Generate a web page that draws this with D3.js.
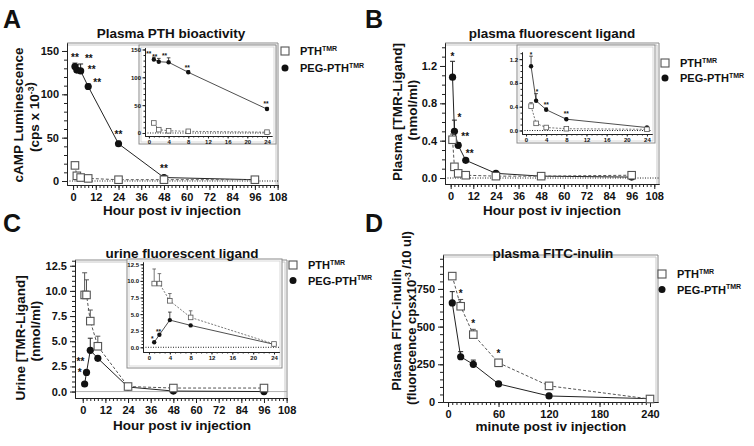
<!DOCTYPE html>
<html><head><meta charset="utf-8">
<script src="https://cdn.jsdelivr.net/npm/d3@7"></script>
<style>
body{margin:0;background:#fff}
svg{display:block}
text{font-family:"Liberation Sans",Arial,Helvetica,sans-serif;font-weight:bold;fill:#111}
</style>
</head><body>
<svg id="c" width="754" height="446"></svg>
<script>
// ---------------- data ----------------
const hours = [1, 2, 4, 8, 24, 48, 96];
const minutes = [5, 15, 30, 60, 120, 240];
const seriesNames = ["PTH", "PEG-PTH"];
const seriesSup = "TMR";

// A: plasma PTH bioactivity (cps x 10^-3)
const pthA = [18, 6, 4, 3, 1.5, 1.5, 1.5];
const pegA = [132, 128, 127, 109, 43, 4, 1.5];
const pegAErr = [136, 134, 135, 112, 46, null, null];
const pegAStars = ["**", "**", "**", "**", "**", "**", ""];

// B: plasma fluorescent ligand (nmol/ml)
const pthB = [0.41, 0.12, 0.05, 0.03, 0.02, 0.02, 0.03];
const pthBErr = [0.47, null, null, null, null, null, null];
const pegB = [1.08, 0.50, 0.35, 0.19, 0.05, 0.02, 0.01];
const pegBErr = [1.25, 0.62, 0.38, 0.21, null, null, null];
const pegBStars = ["*", "*", "**", "**", "", "", ""];

// C: urine fluorescent ligand (nmol/ml)
const pthC = [9.6, 9.6, 7.0, 4.5, 0.5, 0.35, 0.35];
const pthCErr = [11.8, 11.1, 8.1, 5.5, null, null, null];
const pegC = [0.75, 1.9, 4.1, 3.3, 0.45, 0.05, 0.0];
const pegCErr = [null, null, 5.3, null, null, null, null];
const pegCStars = ["*", "**", "", "", "", "", ""];

// D: plasma FITC-inulin
const pthD = [835, 635, 447, 260, 107, 20];
const pthDErr = [null, 680, 482, 272, null, null];
const pthDStars = ["", "*", "*", "*", "", ""];
const pegD = [657, 300, 250, 120, 40, 22];
const pegDErr = [732, 334, 278, null, null, null];

// tick labels
const ticksHour = [0, 12, 24, 36, 48, 60, 72, 84, 96, 108];
const ticksInset = [0, 4, 8, 12, 16, 20, 24];
const ticksMin = [0, 60, 120, 180, 240];
const ticksYA = [0, 50, 100, 150];
const ticksYB = [0, 0.4, 0.8, 1.2];
const ticksYC = [0, 2.5, 5, 7.5, 10, 12.5];
const ticksYD = [0, 250, 500, 750];

// ---------------- helpers ----------------
const svg = d3.select("#c");
const FAM = '"Liberation Sans", Arial, Helvetica, sans-serif';
const INSET_N = 5; // first five time points (<= 24 h)

function styleAxis(s, fs) {
  s.attr("font-family", FAM).attr("font-weight", "bold").attr("font-size", fs);
  s.selectAll("path,line").attr("stroke", "#222").attr("stroke-width", 1);
  s.selectAll("text").attr("fill", "#111");
}
function drawAxes(g, x, y, o) {
  const x0 = x.range()[0], y0 = y.range()[0];
  g.append("g").attr("transform", `translate(0,${y0})`)
    .call(d3.axisBottom(x).tickValues(o.xMinor).tickSize(o.minor).tickFormat("").tickSizeOuter(0))
    .call(s => styleAxis(s, o.fs));
  g.append("g").attr("transform", `translate(0,${y0})`)
    .call(d3.axisBottom(x).tickValues(o.xTicks).tickSize(o.major).tickPadding(o.pad).tickFormat(o.xFmt).tickSizeOuter(0))
    .call(s => styleAxis(s, o.fs));
  g.append("g").attr("transform", `translate(${x0},0)`)
    .call(d3.axisLeft(y).tickValues(o.yMinor).tickSize(o.minor).tickFormat("").tickSizeOuter(0))
    .call(s => styleAxis(s, o.fs));
  g.append("g").attr("transform", `translate(${x0},0)`)
    .call(d3.axisLeft(y).tickValues(o.yTicks).tickSize(o.major).tickPadding(o.pad).tickFormat(o.yFmt).tickSizeOuter(0))
    .call(s => styleAxis(s, o.fs));
}
function frame(g, x, y) {
  const [x0, x1] = x.range(), [y0, y1] = y.range();
  g.append("path").attr("d", `M${x0},${y1}H${x1}V${y0}`).attr("fill", "none").attr("stroke", "#8a8a8a").attr("stroke-width", 1);
  g.append("path").attr("d", `M${x0},${y1 + 2}H${x1 - 2}V${y0}`).attr("fill", "none").attr("stroke", "#c8c8c8").attr("stroke-width", 1);
}
function insetBox(g, bx0, by0, bx1, by1) {
  g.append("rect").attr("x", bx0).attr("y", by0).attr("width", bx1 - bx0).attr("height", by1 - by0)
    .attr("fill", "#fff").attr("stroke", "#8a8a8a").attr("stroke-width", 1);
  g.append("rect").attr("x", bx0 + 2).attr("y", by0 + 2).attr("width", bx1 - bx0 - 4).attr("height", by1 - by0 - 4)
    .attr("fill", "none").attr("stroke", "#cfcfcf").attr("stroke-width", 0.8);
}
function zeroLine(g, x, y, style) {
  const [x0, x1] = x.range();
  const l = g.append("line").attr("x1", x0).attr("x2", x1).attr("y1", y(0)).attr("y2", y(0));
  if (style === "gray") l.attr("stroke", "#a0a0a0").attr("stroke-width", 0.8);
  else l.attr("stroke", "#222").attr("stroke-width", 1).attr("stroke-dasharray", "1,1.5");
}
function series(g, x, y, xs, vs, errs, kind, o) {
  const pts = xs.map((t, i) => [t, vs[i]]);
  g.append("path").datum(pts)
    .attr("d", d3.line().x(d => x(d[0])).y(d => y(d[1])))
    .attr("fill", "none")
    .attr("stroke", kind === "sq" ? "#555" : "#222")
    .attr("stroke-width", o.lw)
    .attr("stroke-dasharray", kind === "sq" ? o.dash : null);
  (errs || []).forEach((e, i) => {
    if (e == null || i >= xs.length) return;
    const px = x(xs[i]);
    const c = kind === "sq" ? "#555" : "#222";
    g.append("line").attr("x1", px).attr("x2", px).attr("y1", y(vs[i])).attr("y2", y(e)).attr("stroke", c).attr("stroke-width", o.lw);
    g.append("line").attr("x1", px - o.cap).attr("x2", px + o.cap).attr("y1", y(e)).attr("y2", y(e)).attr("stroke", c).attr("stroke-width", o.lw);
  });
  if (kind === "sq") {
    g.selectAll(null).data(pts).join("rect")
      .attr("x", d => x(d[0]) - o.sq / 2).attr("y", d => y(d[1]) - o.sq / 2)
      .attr("width", o.sq).attr("height", o.sq)
      .attr("fill", "#fff").attr("stroke", "#555").attr("stroke-width", o.msw);
  } else {
    g.selectAll(null).data(pts).join("circle")
      .attr("cx", d => x(d[0])).attr("cy", d => y(d[1])).attr("r", o.r).attr("fill", "#111");
  }
}
function stars(g, x, y, xs, vs, errs, labels, nudges, fs, half) {
  xs.forEach((t, i) => {
    const lab = labels[i];
    if (!lab) return;
    const px = x(t);
    const e = errs ? errs[i] : null;
    const top = e != null ? Math.min(y(e), y(vs[i]) - half) : y(vs[i]) - half;
    const nd = nudges[i] || nudges.def;
    g.append("text").attr("x", px + nd[0]).attr("y", top + nd[1] + 0.575 * fs)
      .attr("text-anchor", "middle").attr("font-size", fs).text(lab);
  });
}
function legend(g, lx, ly, gap) {
  seriesNames.forEach((n, i) => {
    const cy = ly + i * gap;
    if (i === 0) g.append("rect").attr("x", lx - 4).attr("y", cy - 4).attr("width", 8).attr("height", 8)
      .attr("fill", "#fff").attr("stroke", "#555").attr("stroke-width", 1.1);
    else g.append("circle").attr("cx", lx).attr("cy", cy).attr("r", 3.5).attr("fill", "#111");
    const t = g.append("text").attr("x", lx + 15).attr("y", cy + 4).attr("font-size", 11);
    t.append("tspan").text(n);
    t.append("tspan").attr("font-size", 7).attr("dy", -4.5).text(seriesSup);
  });
}
function title(g, cx, by, txt, fs) {
  g.append("text").attr("x", cx).attr("y", by).attr("text-anchor", "middle").attr("font-size", fs || 13.5).text(txt);
}
function yTitle(g, bx, cy, parts, fs) {
  const t = g.append("text").attr("transform", `translate(${bx},${cy}) rotate(-90)`)
    .attr("text-anchor", "middle").attr("font-size", fs || 13.5);
  parts.forEach(p => {
    if (p.sup) { t.append("tspan").attr("font-size", 8.5).attr("dy", -5).text(p.sup); t.append("tspan").attr("dy", 5).text(""); }
    else t.append("tspan").text(p.t);
  });
}
function letter(g, x, y, L) {
  g.append("text").attr("x", x).attr("y", y).attr("font-size", 25).text(L);
}

const MAIN = { lw: 1, dash: "3,2", cap: 2.5, sq: 7.5, r: 3.6, msw: 1.1 };
const INS = { lw: 0.8, dash: "2,1.5", cap: 1.8, sq: 4.6, r: 2.2, msw: 0.8 };
const fmtD = d3.format("d");
const fmt1 = d3.format(".1f");
const minorH = d3.range(0, 109, 2);
const minorI = d3.range(0, 25, 1);
const STAR = 10;

const g = svg.append("g");

// ================= Panel A =================
{
  const x = d3.scaleLinear().domain([-3.2, 108.2]).range([67, 278]);
  const y = d3.scaleLinear().domain([-4.6, 159.2]).range([185, 43]);
  frame(g, x, y);
  zeroLine(g, x, y, "dot");
  drawAxes(g, x, y, { xTicks: ticksHour, xMinor: minorH, yTicks: ticksYA, yMinor: d3.range(0, 160, 10),
    xFmt: fmtD, yFmt: fmtD, fs: 11, major: 5, minor: 3, pad: 3 });
  series(g, x, y, hours, pegA, pegAErr, "ci", MAIN);
  series(g, x, y, hours, pthA, null, "sq", MAIN);
  const nA = [[0, -7], [12, -9], [11, 3], [9, -2]]; nA.def = [0, -7];
  stars(g, x, y, hours, pegA, pegAErr, pegAStars, nA, STAR, 4);

  // inset
  insetBox(g, 139, 45, 276, 144);
  const xi = d3.scaleLinear().domain([-0.8, 25]).range([145, 271.9]);
  const yi = d3.scaleLinear().domain([-5.4, 153]).range([136, 47.8]);
  zeroLine(g, xi, yi, "dot");
  drawAxes(g, xi, yi, { xTicks: ticksInset, xMinor: minorI, yTicks: ticksYA, yMinor: d3.range(0, 151, 10),
    xFmt: fmtD, yFmt: fmtD, fs: 6, major: 2.5, minor: 1.5, pad: 1.5 });
  const hI = hours.slice(0, INSET_N);
  series(g, xi, yi, hI, pegA.slice(0, INSET_N), pegAErr, "ci", INS);
  series(g, xi, yi, hI, pthA.slice(0, INSET_N), null, "sq", INS);
  const nAi = [[-5, -5], [-4, -3], [-4, -4]]; nAi.def = [-1, -4];
  stars(g, xi, yi, hI, pegA, pegAErr, pegAStars, nAi, 6.5, 2.5);

  legend(g, 285, 51, 17);
  title(g, 171, 38, "Plasma PTH bioactivity");
  title(g, 172, 215, "Hour post iv injection");
  yTitle(g, 23, 115, [{ t: "cAMP Luminescence" }]);
  yTitle(g, 39, 117, [{ t: "(cps x 10" }, { sup: "-3" }, { t: ")" }]);
  letter(g, 3, 28, "A");
}

// ================= Panel B =================
{
  const x = d3.scaleLinear().domain([-3, 110.5]).range([445, 659]);
  const y = d3.scaleLinear().domain([-0.064, 1.446]).range([184, 43]);
  frame(g, x, y);
  zeroLine(g, x, y, "dot");
  drawAxes(g, x, y, { xTicks: ticksHour, xMinor: minorH, yTicks: ticksYB, yMinor: d3.range(0, 1.45, 0.1),
    xFmt: fmtD, yFmt: fmt1, fs: 11, major: 5, minor: 3, pad: 3 });
  series(g, x, y, hours, pegB, pegBErr, "ci", MAIN);
  series(g, x, y, hours, pthB, pthBErr, "sq", MAIN);
  const nB = [[0, -7], [5, -5], [7, -7], [4, -5]]; nB.def = [0, -7];
  stars(g, x, y, hours, pegB, pegBErr, pegBStars, nB, STAR, 4);

  insetBox(g, 517, 45, 655, 143);
  const xi = d3.scaleLinear().domain([-0.8, 25]).range([522, 652]);
  const yi = d3.scaleLinear().domain([-0.059, 1.32]).range([134, 52]);
  zeroLine(g, xi, yi, "dot");
  drawAxes(g, xi, yi, { xTicks: ticksInset, xMinor: minorI, yTicks: ticksYB, yMinor: d3.range(0, 1.31, 0.1),
    xFmt: fmtD, yFmt: fmt1, fs: 6, major: 2.5, minor: 1.5, pad: 1.5 });
  const hI = hours.slice(0, INSET_N);
  series(g, xi, yi, hI, pegB.slice(0, INSET_N), pegBErr, "ci", INS);
  series(g, xi, yi, hI, pthB.slice(0, INSET_N), pthBErr, "sq", INS);
  const nBi = [[0, -3], [1, -3]]; nBi.def = [0, -4];
  stars(g, xi, yi, hI, pegB, pegBErr, pegBStars, nBi, 6.5, 2.5);

  legend(g, 665, 63, 15);
  title(g, 552, 38, "plasma fluorescent ligand");
  title(g, 552, 215, "Hour post iv injection");
  yTitle(g, 402, 112, [{ t: "Plasma [TMR-Ligand]" }]);
  yTitle(g, 417, 110, [{ t: "(nmol/ml)" }]);
  letter(g, 365, 28, "B");
}

// ================= Panel C =================
{
  const x = d3.scaleLinear().domain([-4.1, 108.2]).range([75, 287]);
  const y = d3.scaleLinear().domain([-0.64, 13.07]).range([398, 260]);
  frame(g, x, y);
  zeroLine(g, x, y, "gray");
  drawAxes(g, x, y, { xTicks: ticksHour, xMinor: minorH, yTicks: ticksYC, yMinor: d3.range(0, 13.01, 0.5),
    xFmt: fmtD, yFmt: fmt1, fs: 11, major: 5, minor: 3, pad: 3 });
  series(g, x, y, hours, pegC, pegCErr, "ci", MAIN);
  series(g, x, y, hours, pthC, pthCErr, "sq", MAIN);
  const nC = [[-5, -10], [-6, -9]]; nC.def = [0, -7];
  stars(g, x, y, hours, pegC, pegCErr, pegCStars, nC, STAR, 4);

  insetBox(g, 127, 259, 282, 368);
  const xi = d3.scaleLinear().domain([-1.15, 25]).range([143, 279.2]);
  const yi = d3.scaleLinear().domain([-0.71, 12.85]).range([352, 262]);
  zeroLine(g, xi, yi, "dot");
  drawAxes(g, xi, yi, { xTicks: ticksInset, xMinor: minorI, yTicks: ticksYC, yMinor: d3.range(0, 12.6, 0.5),
    xFmt: fmtD, yFmt: fmt1, fs: 6, major: 2.5, minor: 1.5, pad: 1.5 });
  const hI = hours.slice(0, INSET_N);
  series(g, xi, yi, hI, pegC.slice(0, INSET_N), pegCErr, "ci", INS);
  series(g, xi, yi, hI, pthC.slice(0, INSET_N), pthCErr, "sq", INS);
  const nCi = [[-2, -3], [-1, -2]]; nCi.def = [0, -4];
  stars(g, xi, yi, hI, pegC, pegCErr, pegCStars, nCi, 6.5, 2.5);

  legend(g, 293, 265, 15.5);
  title(g, 182, 258, "urine fluorescent ligand");
  title(g, 182, 430, "Hour post iv injection");
  yTitle(g, 25, 338, [{ t: "Urine [TMR-Ligand]" }]);
  yTitle(g, 40, 331, [{ t: "(nmol/ml)" }]);
  letter(g, 3, 232, "C");
}

// ================= Panel D =================
{
  const x = d3.scaleLinear().domain([-6, 249.5]).range([443, 658]);
  const y = d3.scaleLinear().domain([0, 975]).range([402, 255]);
  frame(g, x, y);
  drawAxes(g, x, y, { xTicks: ticksMin, xMinor: d3.range(0, 241, 5), yTicks: ticksYD, yMinor: d3.range(0, 951, 50),
    xFmt: fmtD, yFmt: fmtD, fs: 11, major: 5, minor: 3, pad: 3 });
  series(g, x, y, minutes, pegD, pegDErr, "ci", MAIN);
  series(g, x, y, minutes, pthD, pthDErr, "sq", MAIN);
  const nD = []; nD.def = [0, -8];
  stars(g, x, y, minutes, pthD, pthDErr, pthDStars, nD, STAR, 4);

  legend(g, 662, 274, 15.5);
  title(g, 553, 258, "plasma FITC-inulin");
  title(g, 551, 431, "minute post iv injection");
  yTitle(g, 401, 330, [{ t: "Plasma FITC-inulin" }]);
  yTitle(g, 416, 318, [{ t: "(fluorecence cpsx10" }, { sup: "-3" }, { t: " /10 ul)" }], 13);
  letter(g, 365, 232, "D");
}
</script>
</body></html>
